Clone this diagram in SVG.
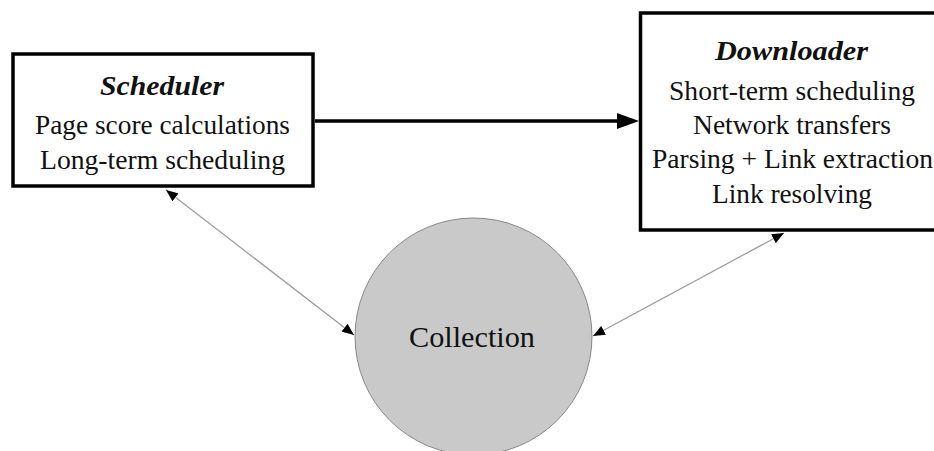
<svg xmlns="http://www.w3.org/2000/svg" width="934" height="451" viewBox="0 0 934 451">
<style>
  .box { fill: #fff; stroke: #000; stroke-width: 3.5; }
  .t { font-family: "Liberation Serif", "DejaVu Serif", serif; font-size: 27px; fill: #111; text-anchor: middle; }
  .title { font-weight: bold; font-style: italic; }
  .thin { stroke: #999; stroke-width: 1.2; fill: none; }
  .thick { stroke: #000; stroke-width: 3.5; fill: none; }
</style>
<defs>
  <marker id="sm" viewBox="0 0 12 10" refX="12" refY="5" markerWidth="12" markerHeight="10" markerUnits="userSpaceOnUse" orient="auto-start-reverse">
    <path d="M0,0 L12,5 L0,10 Z" fill="#000"/>
  </marker>
</defs>
<rect width="934" height="451" fill="#fff"/>
<g id="connectors">
  <line class="thick" x1="315" y1="121" x2="620" y2="121"/>
  <polygon points="639,121 617,113 617,129" fill="#000"/>
  <line class="thin" x1="166" y1="190" x2="354" y2="335" marker-start="url(#sm)" marker-end="url(#sm)"/>
  <line class="thin" x1="784" y1="233" x2="593" y2="336" marker-start="url(#sm)" marker-end="url(#sm)"/>
</g>
<g id="scheduler">
  <rect class="box" x="13" y="54" width="300" height="132"/>
  <text class="t title" x="162" y="95" textLength="124" lengthAdjust="spacingAndGlyphs">Scheduler</text>
  <text class="t" x="162.5" y="134" textLength="255" lengthAdjust="spacingAndGlyphs">Page score calculations</text>
  <text class="t" x="162.5" y="169" textLength="245" lengthAdjust="spacingAndGlyphs">Long-term scheduling</text>
</g>
<g id="downloader">
  <rect class="box" x="640.5" y="13" width="310" height="217"/>
  <text class="t title" x="791.5" y="60" textLength="153" lengthAdjust="spacingAndGlyphs">Downloader</text>
  <text class="t" x="792" y="100" textLength="246" lengthAdjust="spacingAndGlyphs">Short-term scheduling</text>
  <text class="t" x="792" y="134" textLength="198" lengthAdjust="spacingAndGlyphs">Network transfers</text>
  <text class="t" x="792.5" y="168" textLength="281" lengthAdjust="spacingAndGlyphs">Parsing + Link extraction</text>
  <text class="t" x="792" y="203" textLength="160" lengthAdjust="spacingAndGlyphs">Link resolving</text>
</g>
<g id="collection">
  <circle cx="473.5" cy="336.5" r="118.5" fill="#c9c9c9" stroke="#888" stroke-width="1"/>
  <text class="t" x="472" y="347" textLength="126" lengthAdjust="spacingAndGlyphs" style="font-size:29px">Collection</text>
</g>
</svg>
